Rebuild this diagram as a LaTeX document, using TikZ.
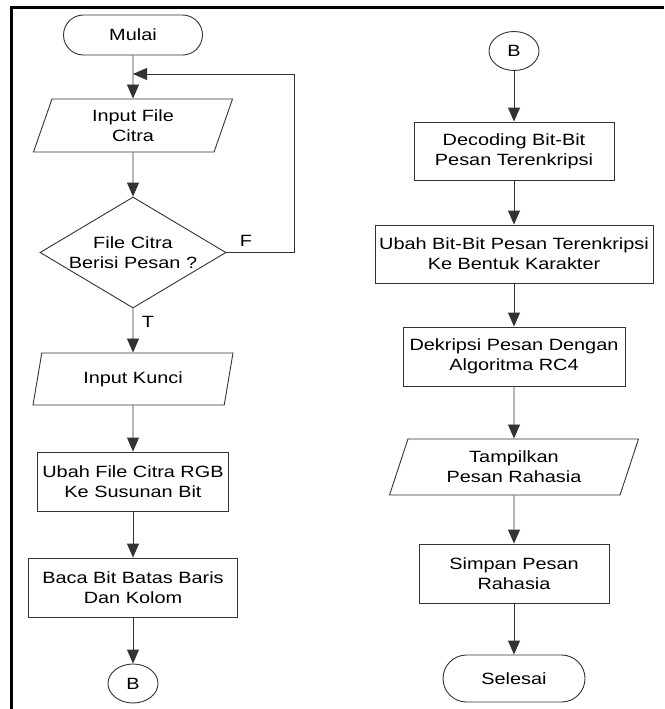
\documentclass[tikz,border=0pt]{standalone}
\usepackage{fontspec}
\setmainfont{Liberation Sans}[FakeStretch=1.22]
\usetikzlibrary{shapes.geometric,shapes.misc,arrows.meta}

\begin{document}
\begin{tikzpicture}[x=1pt,y=-1pt,font=\fontsize{16.3}{20}\selectfont]
    \tikzset{
        garis/.style={draw=black!80,line width=0.9pt},
        panah/.style={garis,-{Triangle[length=14pt,width=12pt]}},
        terminal/.style args={#1 by #2}{garis,rounded rectangle,minimum width=#1,minimum height=#2,inner sep=0pt},
        proses/.style args={#1 by #2}{garis,rectangle,minimum width=#1,minimum height=#2,inner sep=0pt,align=center},
        io/.style args={#1 by #2}{garis,trapezium,trapezium left angle=60,trapezium right angle=120,
            trapezium stretches body=true,minimum width=#1,minimum height=#2,inner sep=0pt,align=center},
        keputusan/.style={garis,diamond,aspect=1.68,minimum width=186pt,minimum height=111pt,inner sep=0pt,align=center},
        sambung/.style={garis,ellipse,minimum width=50pt,minimum height=39pt,inner sep=0pt},
    }
    \useasboundingbox (0,0) rectangle (664,709);
    \draw [line width=3.5pt](11.5,709) -- (11.5,7.5) -- (664,7.5);
    % kolom kiri
    \node [terminal=139pt by 40pt] (mulai) at (133,35) {Mulai};
    \node [io=199pt by 53pt] (citra) at (133,125.5) {Input File\\Citra};
    \node [keputusan] (cek) at (133,252.5) {File Citra\\Berisi Pesan ?};
    \node [io=200pt by 52pt] (kunci) at (133,379) {Input Kunci};
    \node [proses=191pt by 59pt] (ubah) at (133,481.5) {Ubah File Citra RGB\\Ke Susunan Bit};
    \node [proses=209pt by 59pt] (baca) at (133,587.5) {Baca Bit Batas Baris\\Dan Kolom};
    \node [sambung] (bkiri) at (133,683.5) {B};
    \node (f) at (246,241) {F};
    \node (t) at (148,321.5) {T};
    \coordinate (masuk) at (133,74);
    % kolom kanan
    \node [sambung] (bkanan) at (514,51) {B};
    \node [proses=200pt by 58pt] (decode) at (514,151) {Decoding Bit-Bit\\Pesan Terenkripsi};
    \node [proses=278pt by 58pt] (karakter) at (514,254) {Ubah Bit-Bit Pesan Terenkripsi\\Ke Bentuk Karakter};
    \node [proses=222pt by 59pt] (dekripsi) at (514,356.5) {Dekripsi Pesan Dengan\\Algoritma RC4};
    \node [io=249pt by 56pt] (tampil) at (514,467) {Tampilkan\\Pesan Rahasia};
    \node [proses=190pt by 59pt] (simpan) at (514,573.5) {Simpan Pesan\\Rahasia};
    \node [terminal=142pt by 47pt] (selesai) at (514,678.5) {Selesai};

    \draw [panah](mulai) -- (citra);
    \draw [panah](citra) -- (cek);
    \draw [panah](cek.east) -- ++(68,0) |- (masuk);
    \draw [panah](cek) -- (kunci);
    \draw [panah](kunci) -- (ubah);
    \draw [panah](ubah) -- (baca);
    \draw [panah](baca) -- (bkiri);
    \draw [panah](bkanan) -- (decode);
    \draw [panah](decode) -- (karakter);
    \draw [panah](karakter) -- (dekripsi);
    \draw [panah](dekripsi) -- (tampil);
    \draw [panah](tampil) -- (simpan);
    \draw [panah](simpan) -- (selesai);
\end{tikzpicture}
\end{document}
